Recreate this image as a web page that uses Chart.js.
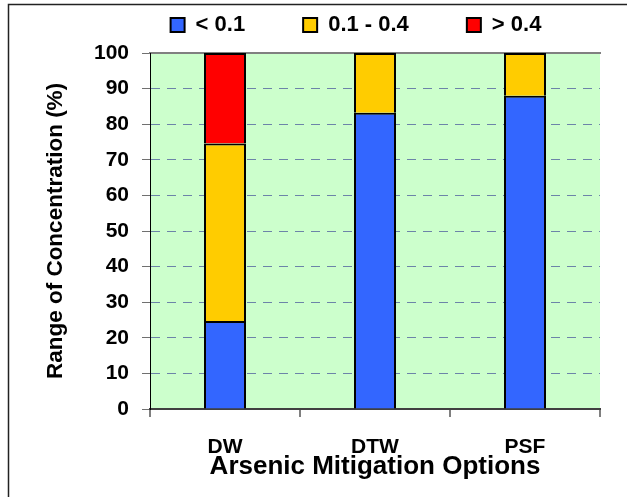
<!DOCTYPE html>
<html>
<head>
<meta charset="utf-8">
<title>Arsenic Mitigation Options</title>
<script src="https://cdn.jsdelivr.net/npm/chart.js@4/dist/chart.umd.min.js"></script>
<style>
  html, body { margin: 0; padding: 0; background: #ffffff; }
  canvas { display: block; }
</style>
</head>
<body>
<canvas id="chart" width="627" height="497"></canvas>
<script>
// Share of samples (%) in each arsenic concentration range (mg/L) per mitigation option
const categories = ['DW', 'DTW', 'PSF'];
const seriesNames = ['< 0.1', '0.1 - 0.4', '> 0.4'];
const lowShare = [24.7, 83.2, 88.0];
const midShare = [49.9, 16.8, 12.0];
const highShare = [25.4, null, null];
const percentTicks = [0, 10, 20, 30, 40, 50, 60, 70, 80, 90, 100];

const FONT = "'Liberation Sans', Arial, Helvetica, sans-serif";
const seriesColors = ['#3366FF', '#FFCC00', '#FF0000'];

// light green plot area and white page
const plotBackground = {
  id: 'plotBackground',
  beforeDraw(chart) {
    const { ctx, chartArea: a } = chart;
    ctx.save();
    ctx.fillStyle = '#ffffff';
    ctx.fillRect(0, 0, chart.width, chart.height);
    ctx.fillStyle = '#CCFFCC';
    ctx.fillRect(a.left, a.top, a.right - a.left, a.bottom - a.top);
    ctx.restore();
  }
};

// frame around the chart object
const outerFrame = {
  id: 'outerFrame',
  afterDraw(chart) {
    const { ctx } = chart;
    ctx.save();
    ctx.strokeStyle = '#222222';
    ctx.lineWidth = 1.5;
    ctx.beginPath();
    ctx.moveTo(8.5, chart.height);
    ctx.lineTo(8.5, 4.5);
    ctx.lineTo(chart.width, 4.5);
    ctx.stroke();
    ctx.restore();
  }
};

// moves the legend row into place above the plot (bottom edge stays on the plot top)
const legendNudge = {
  id: 'legendNudge',
  afterLayout(chart, args, opts) {
    const lg = chart.legend;
    if (!lg) return;
    lg.left += opts.dx; lg.right += opts.dx;
    lg.top += opts.dy;
  }
};

const barStyle = { borderColor: '#000000', borderWidth: 2, barPercentage: 0.28, categoryPercentage: 1 };

new Chart(document.getElementById('chart'), {
  type: 'bar',
  data: {
    labels: categories,
    datasets: [
      Object.assign({ label: seriesNames[0], data: lowShare, backgroundColor: seriesColors[0] }, barStyle),
      Object.assign({ label: seriesNames[1], data: midShare, backgroundColor: seriesColors[1] }, barStyle),
      Object.assign({ label: seriesNames[2], data: highShare, backgroundColor: seriesColors[2] }, barStyle)
    ]
  },
  plugins: [plotBackground, outerFrame, legendNudge],
  options: {
    responsive: false,
    animation: false,
    devicePixelRatio: 1,
    layout: { padding: { left: 0, right: 27, top: 0, bottom: 0 } },
    plugins: {
      legend: {
        position: 'top',
        align: 'center',
        maxHeight: 53,
        labels: {
          boxWidth: 14,
          boxHeight: 14,
          padding: 58,
          color: '#000000',
          font: { family: FONT, size: 22, weight: 'bold' }
        }
      },
      legendNudge: { dx: 56, dy: -44 },
      tooltip: { enabled: false }
    },
    scales: {
      x: {
        stacked: true,
        offset: true,
        grid: {
          display: true,
          offset: true,
          drawTicks: true,
          tickLength: 8,
          lineWidth: 2,
          color: (c) => (c.index === categories.length ? '#808080' : 'rgba(0,0,0,0)'),
          tickColor: '#000000',
          tickWidth: 1
        },
        border: { display: true, color: '#404040', width: 2 },
        ticks: {
          color: '#000000',
          padding: 18,
          font: { family: FONT, size: 21, weight: 'bold' }
        },
        title: {
          display: true,
          text: 'Arsenic Mitigation Options',
          color: '#000000',
          font: { family: FONT, size: 26, weight: 'bold' },
          padding: { top: 0, bottom: 15 }
        },
        afterFit: (s) => { s.height = 88; }
      },
      xTop: {
        type: 'category',
        position: 'top',
        grid: { display: false, drawTicks: false, tickLength: 0 },
        ticks: { display: false },
        border: { display: true, color: '#808080', width: 2 }
      },
      y: {
        stacked: true,
        min: 0,
        max: 100,
        afterBuildTicks: (s) => { s.ticks = percentTicks.map((v) => ({ value: v })); },
        grid: {
          lineWidth: 1,
          color: (c) => (c.tick && (c.tick.value === 0 || c.tick.value === 100) ? 'rgba(0,0,0,0)' : '#6C84A8'),
          tickColor: '#707070',
          tickLength: 8,
          tickWidth: 1,
          tickBorderDash: []
        },
        border: { display: true, color: '#000000', width: 1, dash: [9, 7] },
        ticks: {
          color: '#000000',
          padding: 13,
          font: { family: FONT, size: 21, weight: 'bold' }
        },
        title: {
          display: true,
          text: 'Range of Concentration (%)',
          color: '#000000',
          font: { family: FONT, size: 22.5, weight: 'bold' },
          padding: { top: 42, bottom: 0 }
        },
        afterFit: (s) => { s.width = 150; }
      }
    }
  }
});
</script>
</body>
</html>
